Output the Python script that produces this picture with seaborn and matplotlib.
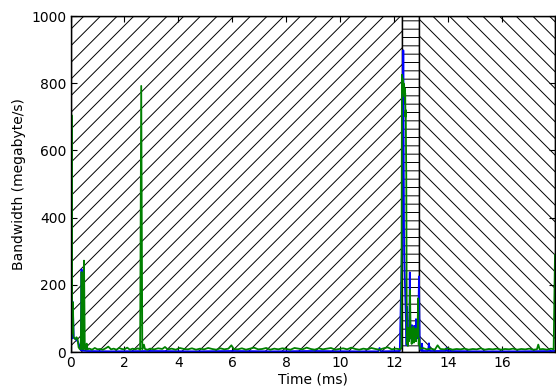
import pandas as pd
import matplotlib
matplotlib.use("Agg")
import matplotlib.pyplot as plt
import seaborn as sns

# --- data (time in ms, bandwidth in megabyte/s) ---
green_time = [
    0.00, 0.02, 0.04, 0.06, 0.09, 0.11, 0.14, 0.18, 0.22, 0.26,
    0.30, 0.34, 0.38, 0.41, 0.44, 0.47, 0.50, 0.53, 0.57, 0.60,
    0.63, 0.70, 0.80, 0.90, 1.00, 1.10, 1.20, 1.30, 1.40, 1.50,
    1.60, 1.70, 1.80, 1.90, 2.00, 2.10, 2.20, 2.30, 2.40, 2.50,
    2.58, 2.62, 2.66, 2.72, 2.76, 2.85, 2.95, 3.10, 3.25, 3.40,
    3.50, 3.60, 3.75, 3.90, 4.05, 4.20, 4.35, 4.50, 4.65, 4.80,
    4.95, 5.10, 5.25, 5.40, 5.55, 5.70, 5.85, 5.96, 6.05, 6.20,
    6.35, 6.50, 6.65, 6.80, 6.95, 7.10, 7.25, 7.40, 7.55, 7.70,
    7.85, 8.00, 8.15, 8.30, 8.45, 8.60, 8.75, 8.90, 9.05, 9.20,
    9.35, 9.50, 9.65, 9.80, 9.95, 10.10, 10.25, 10.40, 10.55, 10.70,
    10.85, 11.00, 11.15, 11.30, 11.45, 11.60, 11.75, 11.90, 12.05, 12.15,
    12.22, 12.26, 12.28, 12.29, 12.30, 12.31, 12.32, 12.33, 12.34, 12.35,
    12.36, 12.37, 12.38, 12.39, 12.40, 12.41, 12.42, 12.43, 12.44, 12.46,
    12.48, 12.50, 12.52, 12.54, 12.56, 12.58, 12.60, 12.62, 12.64, 12.66,
    12.68, 12.70, 12.72, 12.74, 12.76, 12.78, 12.80, 12.82, 12.84, 12.86,
    12.88, 12.90, 12.92, 12.95, 13.05, 13.20, 13.35, 13.50, 13.60, 13.70,
    13.85, 14.00, 14.15, 14.30, 14.45, 14.60, 14.75, 14.90, 15.05, 15.20,
    15.35, 15.50, 15.65, 15.80, 15.95, 16.10, 16.25, 16.40, 16.55, 16.70,
    16.85, 17.00, 17.15, 17.28, 17.33, 17.38, 17.50, 17.65, 17.80, 17.90,
    17.95,
]
green_bw = [
    0, 14, 705, 55, 148, 45, 42, 38, 44, 40,
    14, 9, 8, 238, 10, 8, 272, 10, 7, 25,
    8, 10, 7, 12, 8, 9, 7, 11, 16, 8,
    10, 7, 12, 9, 8, 13, 7, 10, 8, 11,
    7, 792, 8, 22, 9, 7, 10, 8, 11, 9,
    15, 8, 10, 7, 12, 9, 8, 11, 7, 10,
    8, 12, 9, 7, 11, 8, 10, 20, 9, 8,
    11, 7, 10, 13, 8, 9, 12, 7, 10, 8,
    11, 9, 7, 12, 10, 8, 13, 9, 7, 11,
    8, 10, 12, 7, 9, 11, 8, 13, 9, 7,
    10, 8, 12, 9, 7, 11, 14, 8, 10, 9,
    8, 14, 825, 780, 815, 790, 805, 770, 800, 780,
    795, 760, 785, 740, 770, 700, 720, 600, 520, 24,
    62, 18, 72, 32, 66, 185, 42, 70, 24, 62,
    36, 75, 28, 66, 42, 70, 32, 62, 46, 70,
    160, 22, 40, 9, 12, 8, 10, 7, 20, 9,
    8, 11, 7, 9, 8, 10, 7, 9, 8, 11,
    7, 9, 8, 10, 7, 9, 8, 10, 7, 9,
    8, 10, 7, 8, 22, 8, 9, 7, 10, 8,
    290,
]

blue_time = [
    0.00, 0.03, 0.05, 0.08, 0.12, 0.20, 0.28, 0.38, 0.41, 0.44,
    0.60, 1.50, 3.00, 4.50, 6.00, 7.50, 9.00, 10.50, 11.40, 11.45,
    11.50, 12.20, 12.30, 12.33, 12.36, 12.45, 12.47, 12.49, 12.55, 12.57,
    12.59, 12.61, 12.63, 12.65, 12.67, 12.69, 12.71, 12.73, 12.75, 12.77,
    12.79, 12.80, 12.82, 12.84, 12.88, 12.91, 12.94, 13.00, 13.02, 13.05,
    13.25, 13.28, 13.31, 13.90, 13.93, 13.96, 15.00, 16.50, 17.95,
]
blue_bw = [
    0, 690, 40, 150, 42, 38, 30, 5, 246, 4,
    3, 2, 3, 2, 3, 2, 3, 2, 2, 12,
    2, 3, 400, 898, 300, 20, 135, 30, 45, 237,
    40, 75, 50, 80, 45, 70, 55, 78, 40, 65,
    50, 98, 45, 60, 40, 225, 10, 3, 25, 3,
    3, 26, 3, 3, 12, 3, 2, 2, 3,
]

# hatched phases: (start, end, hatch)
phase_start = [0.0, 12.30, 12.90]
phase_end = [12.30, 12.90, 17.95]
phase_hatch = ['//', '--', '\\\\']

sns.set_style("ticks")
plt.rcParams.update({
    'font.family': ['DejaVu Sans'],
    'font.size': 10,
    'axes.labelsize': 10,
    'xtick.labelsize': 10,
    'ytick.labelsize': 10,
    'xtick.direction': 'in',
    'ytick.direction': 'in',
    'xtick.top': True,
    'ytick.right': True,
    'xtick.major.size': 4,
    'ytick.major.size': 4,
    'xtick.major.pad': 3,
    'ytick.major.pad': 3,
    'axes.edgecolor': 'black',
    'axes.linewidth': 1.0,
    'hatch.linewidth': 0.7,
    'text.color': 'black',
    'xtick.color': 'black',
    'ytick.color': 'black',
    'axes.labelcolor': 'black',
})

fig = plt.figure(figsize=(5.56, 3.87), dpi=100)
ax = fig.add_axes([0.1268, 0.0904, 0.8714, 0.8682])

for s, e, h in zip(phase_start, phase_end, phase_hatch):
    ax.axvspan(s, e, facecolor='white', edgecolor='black', hatch=h,
               linewidth=1.0, zorder=0)

df_blue = pd.DataFrame({'time': blue_time, 'bw': blue_bw})
df_green = pd.DataFrame({'time': green_time, 'bw': green_bw})

sns.lineplot(data=df_blue, x='time', y='bw', color='#0000ff', linewidth=1.3,
             estimator=None, sort=False, ax=ax, zorder=2)
sns.lineplot(data=df_green, x='time', y='bw', color='#008000', linewidth=1.3,
             estimator=None, sort=False, ax=ax, zorder=3)

ax.set_xlim(0, 17.95)
ax.set_ylim(0, 1000)
ax.set_xticks(range(0, 17, 2))
ax.set_yticks(range(0, 1001, 200))
ax.set_xlabel('Time (ms)', labelpad=2)
ax.set_ylabel('Bandwidth (megabyte/s)')
for sp in ax.spines.values():
    sp.set_visible(True)
    sp.set_zorder(5)

fig.savefig('out.png', dpi=100)
